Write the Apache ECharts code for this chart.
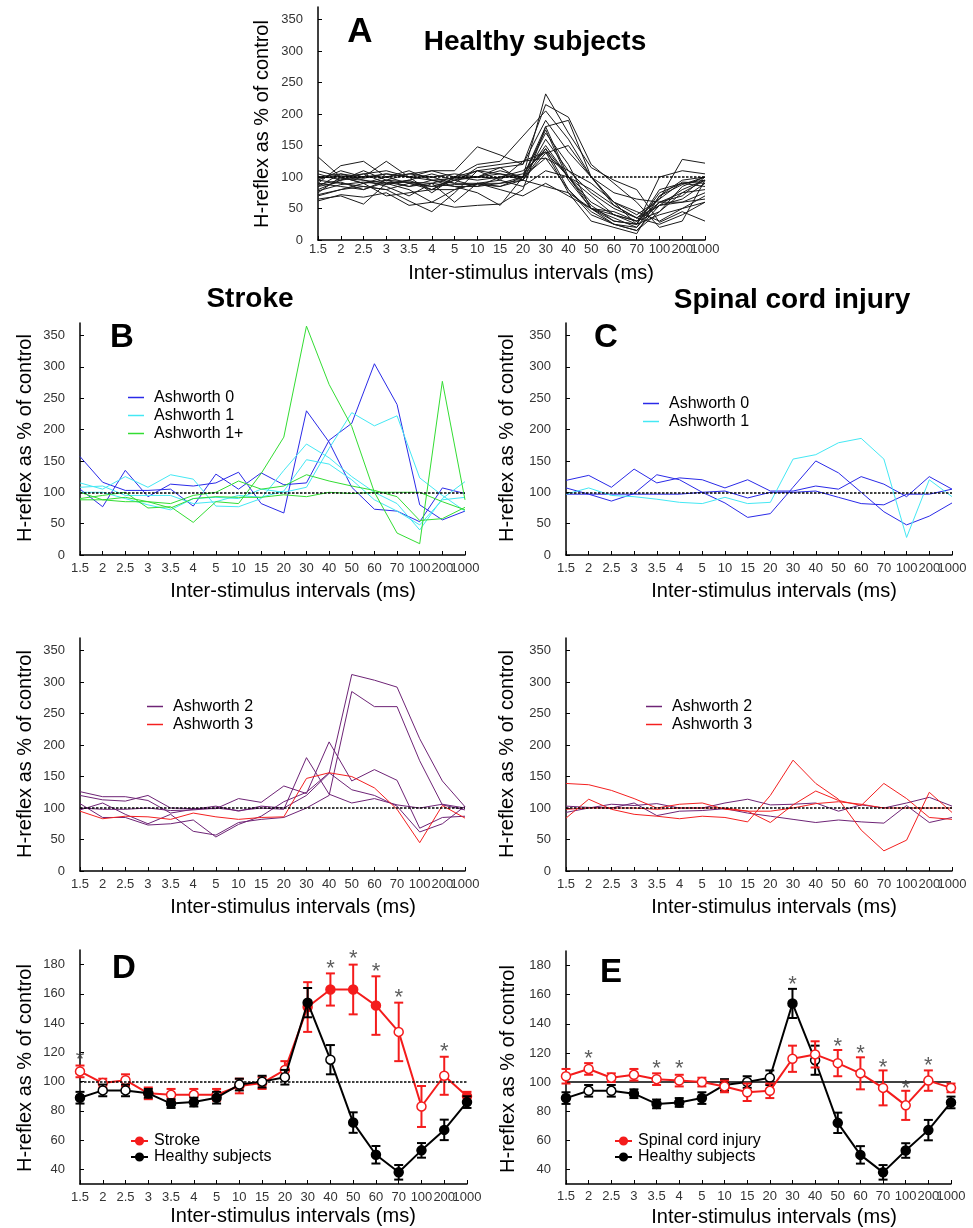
<!DOCTYPE html>
<html><head><meta charset="utf-8">
<script src="https://cdn.jsdelivr.net/npm/echarts@6/dist/echarts.min.js"></script>
<style>html,body{margin:0;padding:0;background:#fff}#c{width:973px;height:1228px}</style>
</head><body><div id="c"></div>
<script>
// ---------- DATA ----------
const categories = ['1.5','2','2.5','3','3.5','4','5','10','15','20','30','40','50','60','70','100','200','1000'];

// Panel A: healthy subjects, individual curves
const healthy01 = [132,100,90,95,92,85,95,110,105,100,232,170,115,95,80,28,45,30];
const healthy02 = [75,100,105,90,95,80,100,120,125,165,205,160,100,55,35,25,40,60];
const healthy03 = [90,118,125,100,105,110,110,148,135,120,215,195,120,90,60,20,30,95];
const healthy04 = [65,70,57,90,80,60,52,55,57,80,180,190,100,60,40,65,128,122];
const healthy05 = [100,105,100,125,100,75,100,95,100,100,170,120,50,30,25,100,110,105];
const healthy06 = [95,90,85,80,62,45,75,110,115,95,145,100,60,40,30,45,75,95];
const healthy07 = [80,95,110,95,85,95,90,90,85,100,175,95,50,25,20,60,70,100];
const healthy08 = [70,80,90,100,110,95,85,85,100,110,140,75,30,20,10,70,95,100];
const healthy09 = [85,105,95,85,70,90,60,90,95,125,130,110,90,60,45,30,50,60];
const healthy10 = [100,98,95,90,92,90,100,100,105,95,160,110,75,50,35,65,92,90];
const healthy11 = [110,100,90,70,75,80,95,100,98,105,145,80,45,25,15,55,80,95];
const healthy12 = [62,72,68,75,55,60,80,90,80,70,90,70,50,40,30,55,65,90];
const healthy13 = [90,85,80,95,105,100,105,100,115,120,190,140,100,60,25,40,50,70];
const healthy14 = [78,88,92,88,95,105,95,85,90,100,130,80,40,25,15,45,85,100];
const healthy15 = [95,110,100,105,100,100,90,115,120,125,140,100,55,30,25,75,90,85];
const healthy16 = [105,95,100,100,90,85,88,88,85,95,85,75,50,45,30,60,60,75];
const healthy17 = [85,92,80,92,85,90,85,75,55,100,180,100,70,40,25,80,90,95];
const healthy18 = [72,80,85,80,90,80,80,90,90,95,138,150,100,75,65,60,75,80];
const healthy19 = [98,102,98,105,100,95,98,100,110,100,150,100,50,35,20,70,88,100];
const healthy20 = [88,95,105,110,100,110,100,110,95,85,110,100,80,55,35,55,60,65];

// Panel B (stroke, Ashworth 0 / 1 / 1+)
const strokeA0_1 = [157,116,103,103,105,78,129,105,131,112,115,183,210,305,240,80,56,70];
const strokeA0_2 = [105,77,135,93,113,110,115,132,82,67,230,180,108,73,70,53,107,98];
const strokeA1_1 = [115,105,125,108,128,121,78,77,90,135,177,155,125,100,82,40,90,117];
const strokeA1_2 = [108,110,95,95,95,82,85,95,92,102,152,145,120,88,70,48,88,92];
const strokeA1_3 = [100,100,90,80,72,90,92,90,105,100,108,170,227,206,222,123,95,70];
const strokeA1p_1 = [90,95,100,75,77,52,85,82,130,188,365,272,205,100,35,18,277,88];
const strokeA1p_2 = [100,88,85,85,82,95,100,118,105,110,128,118,110,103,93,55,58,76];
const strokeA1p_3 = [88,88,92,85,75,90,93,92,92,96,93,100,98,100,100,100,85,72];

// Panel C (SCI, Ashworth 0 / 1)
const sciA0_1 = [119,127,108,137,115,123,120,107,120,102,102,110,105,125,113,93,125,105];
const sciA0_2 = [107,97,86,98,128,120,100,83,60,66,108,150,131,100,69,48,62,83];
const sciA0_3 = [97,97,97,97,97,97,100,102,91,100,100,102,92,82,80,97,97,105];
const sciA1_1 = [97,107,95,93,89,84,82,92,82,84,153,160,179,186,153,28,120,93];

// Panel B lower (stroke, Ashworth 2 / 3)
const strokeA2_1 = [126,118,118,112,92,98,103,95,103,100,120,155,312,303,292,210,143,102];
const strokeA2_2 = [120,113,111,120,100,99,99,115,109,135,123,205,143,161,144,68,85,87];
const strokeA2_3 = [107,85,85,73,75,81,54,74,87,110,125,156,129,120,103,62,75,103];
const strokeA2_4 = [97,108,90,75,90,63,57,77,82,85,100,120,285,261,261,175,105,97];
const strokeA2_5 = [100,98,98,100,96,97,100,96,100,98,180,122,108,115,105,100,106,100];
const strokeA3_1 = [95,83,87,86,82,92,86,82,85,86,147,156,150,132,98,45,104,84];

// Panel C lower (SCI, Ashworth 2 / 3)
const sciA2_1 = [93,100,106,104,107,100,100,108,114,105,106,108,95,105,100,108,117,103];
const sciA2_2 = [103,101,100,108,88,95,96,99,92,87,82,77,81,78,76,104,77,85];
const sciA3_1 = [139,137,128,115,100,106,108,98,95,77,105,127,112,104,139,115,85,82];
const sciA3_2 = [84,114,98,90,87,83,87,85,78,120,176,139,114,65,32,49,125,93];
const sciA3_3 = [98,100,100,100,98,100,100,100,95,95,100,107,110,106,100,100,100,100];

// Panels D/E: group means and SEM
const healthyMean = [89,94,94,92,85,86,89,98,100,103,154,115,72,50,38,53,67,86];
const healthySem  = [4,4,4,3,3,3,4,4,4,5,10,10,7,6,5,5,7,4];
const healthyOpen = [false,true,true,false,false,false,false,true,true,true,false,true,false,false,false,false,false,false];

const strokeMean = [107,99,101,92,91,91,91,97,99,108,151,163,163,152,134,83,104,90];
const strokeSem  = [4,3,4,4,4,4,4,5,4,6,17,11,17,20,20,14,13,3];
const strokeOpen = [true,true,true,true,true,true,true,true,true,true,false,false,false,false,true,true,true,false];
const strokeStars = [[0,115],[11,177],[12,184],[13,175],[14,157],[16,120]];

const sciMean = [104,109,103,105,102,101,100,97,93,94,116,119,113,106,96,84,101,96];
const sciSem  = [5,4,3,4,4,4,3,4,6,5,9,9,9,11,12,10,7,3];
const sciStars = [[1,116],[4,109],[5,109],[10,167],[12,124],[13,119],[14,110],[15,95],[16,111]];

// ---------- STYLE ----------
const FF = '"Liberation Sans", Arial, sans-serif';
const C_A0 = '#2a2ae8', C_A1 = '#44e8f4', C_A1P = '#33dd33', C_A2 = '#6e2476', C_A3 = '#f42020';
const RED = '#f41c1c';

const grids = [
  {left:318, top:7, width:387, height:233},    // 0 A
  {left:80, top:323, width:385, height:232},   // 1 B top
  {left:566, top:323, width:386, height:232},  // 2 C top
  {left:80, top:638, width:385, height:233},   // 3 B low
  {left:566, top:638, width:386, height:233},  // 4 C low
  {left:80, top:950, width:387, height:234},   // 5 D
  {left:566, top:951, width:385, height:233}   // 6 E
];
const xLabelMargin = [3,7,7,7,7,7,6];

const xAxes = grids.map((g,i)=>({
  type:'category', gridIndex:i, data:categories, boundaryGap:false,
  axisLine:{lineStyle:{color:'#000', width:1.5}},
  axisTick:{inside:true, length:4, interval:0, lineStyle:{color:'#000', width:1}},
  axisLabel:{interval:0, margin:xLabelMargin[i], color:'#333', fontSize:13, fontFamily:FF},
  splitLine:{show:false}
}));
const yAxes = grids.map((g,i)=>{
  const base = {
    type:'value', gridIndex:i,
    axisLine:{show:true, lineStyle:{color:'#000', width:1.5}},
    axisTick:{show:true, inside:true, length:4, lineStyle:{color:'#000', width:1}},
    axisLabel:{margin:15, color:'#333', fontSize:13, fontFamily:FF, showMaxLabel:false},
    splitLine:{show:false}
  };
  if (i < 5) { base.min = 0; base.max = 370; base.interval = 50; }
  else { base.min = 30; base.max = 190; base.splitNumber = 8; base.axisLabel.showMinLabel = false; }
  return base;
});

const series = [];
function refLine(gi, solid){
  return {
    type:'line', xAxisIndex:gi, yAxisIndex:gi, data:[], silent:true,
    markLine:{silent:true, symbol:['none','none'], label:{show:false}, animation:false,
      lineStyle:{color:'#000', width:1.5, type: solid ? 'solid' : [2.5,1.5]},
      data:[{yAxis:100}]}
  };
}
function thin(gi, name, color, data, z){
  series.push({type:'line', name, xAxisIndex:gi, yAxisIndex:gi, data, symbol:'none', silent:true,
    color, lineStyle:{color, width:1}, z: z||2});
}

// Panel A
[healthy01,healthy02,healthy03,healthy04,healthy05,healthy06,healthy07,healthy08,healthy09,healthy10,
 healthy11,healthy12,healthy13,healthy14,healthy15,healthy16,healthy17,healthy18,healthy19,healthy20]
 .forEach((d,k)=>thin(0,'HS'+(k+1),'#1a1a1a',d));
series.push(refLine(0));

// Panel B top
thin(1,'Ashworth 0',C_A0,strokeA0_1); thin(1,'Ashworth 0',C_A0,strokeA0_2);
thin(1,'Ashworth 1',C_A1,strokeA1_1); thin(1,'Ashworth 1',C_A1,strokeA1_2); thin(1,'Ashworth 1',C_A1,strokeA1_3);
thin(1,'Ashworth 1+',C_A1P,strokeA1p_1); thin(1,'Ashworth 1+',C_A1P,strokeA1p_2); thin(1,'Ashworth 1+',C_A1P,strokeA1p_3);
series.push(refLine(1));
// Panel C top
thin(2,'Ashworth 0',C_A0,sciA0_1); thin(2,'Ashworth 0',C_A0,sciA0_2); thin(2,'Ashworth 0',C_A0,sciA0_3);
thin(2,'Ashworth 1',C_A1,sciA1_1);
series.push(refLine(2));
// Panel B low
[strokeA2_1,strokeA2_2,strokeA2_3,strokeA2_4,strokeA2_5].forEach(d=>thin(3,'Ashworth 2',C_A2,d));
thin(3,'Ashworth 3',C_A3,strokeA3_1,3);
series.push(refLine(3));
// Panel C low
[sciA2_1,sciA2_2].forEach(d=>thin(4,'Ashworth 2',C_A2,d));
[sciA3_1,sciA3_2,sciA3_3].forEach(d=>thin(4,'Ashworth 3',C_A3,d,3));
series.push(refLine(4));

// Panels D / E
function errBars(gi, mean, sem, color, z){
  series.push({type:'custom', xAxisIndex:gi, yAxisIndex:gi, silent:true, z,
    data: mean.map((m,i)=>[i, m-sem[i], m+sem[i]]),
    renderItem:(params, api)=>{
      const i = api.value(0);
      const lo = api.coord([i, api.value(1)]);
      const hi = api.coord([i, api.value(2)]);
      const w = 4.5;
      const st = {stroke:color, lineWidth:2};
      return {type:'group', children:[
        {type:'line', shape:{x1:lo[0],y1:lo[1],x2:hi[0],y2:hi[1]}, style:st},
        {type:'line', shape:{x1:lo[0]-w,y1:lo[1],x2:lo[0]+w,y2:lo[1]}, style:st},
        {type:'line', shape:{x1:hi[0]-w,y1:hi[1],x2:hi[0]+w,y2:hi[1]}, style:st}
      ]};
    }
  });
}
function meanLine(gi, name, mean, open, color, z){
  series.push({type:'line', name, xAxisIndex:gi, yAxisIndex:gi, silent:true, z,
    data: mean.map((m,i)=> open[i] ? {value:m, itemStyle:{color:'#fff'}} : m),
    symbol:'circle', symbolSize:9, showAllSymbol:true, color,
    itemStyle:{color, borderColor:color, borderWidth:1.5},
    lineStyle:{color, width:2}
  });
}
function stars(gi, pts){
  series.push({type:'scatter', xAxisIndex:gi, yAxisIndex:gi, silent:true, z:10,
    data: pts, symbolSize:1, itemStyle:{color:'rgba(0,0,0,0)'},
    label:{show:true, formatter:'*', position:'inside', fontSize:22, color:'#333', fontFamily:FF}
  });
}
series.push(refLine(5));
errBars(5, strokeMean, strokeSem, RED, 3);
meanLine(5, 'Stroke', strokeMean, strokeOpen, RED, 4);
errBars(5, healthyMean, healthySem, '#000', 5);
meanLine(5, 'Healthy subjects', healthyMean, healthyOpen, '#000', 6);
stars(5, strokeStars);

series.push(refLine(6, true));
errBars(6, healthyMean, healthySem, '#000', 3);
meanLine(6, 'Healthy subjects', healthyMean, healthyOpen, '#000', 4);
errBars(6, sciMean, sciSem, RED, 5);
meanLine(6, 'Spinal cord injury', sciMean, sciMean.map(()=>true), RED, 6);
stars(6, sciStars);

function legend(left, top, data, withSymbol){
  const l = {left, top, orient:'vertical', data, selectedMode:false,
    textStyle:{fontSize:16, color:'#000', fontFamily:FF}};
  if (withSymbol) {
    l.itemWidth = 17; l.itemHeight = 9; l.itemGap = 0;
    l.textStyle.lineHeight = 16; l.textStyle.padding = [0,0,0,1];
  } else {
    l.icon = 'rect'; l.itemWidth = 16; l.itemHeight = 1.5; l.itemGap = 1;
    l.textStyle.lineHeight = 17; l.textStyle.padding = [0,0,0,5];
  }
  return l;
}
const legends = [
  legend(123, 384, ['Ashworth 0','Ashworth 1','Ashworth 1+']),
  legend(638, 390, ['Ashworth 0','Ashworth 1']),
  legend(142, 693, ['Ashworth 2','Ashworth 3']),
  legend(641, 693, ['Ashworth 2','Ashworth 3']),
  legend(125, 1128, ['Stroke','Healthy subjects'], true),
  legend(609, 1128, ['Spinal cord injury','Healthy subjects'], true)
];

function txt(x, y, text, font, rot){
  return {type:'text', x, y, rotation: rot||0, silent:true,
    style:{text, font, fill:'#000', align:'center', verticalAlign:'middle', textAlign:'center', textVerticalAlign:'middle'}};
}
const BIG = 'bold 33px ' + FF, TITLE = 'bold 28px ' + FF, NAME = '20px ' + FF;
const XNAME = 'Inter-stimulus intervals (ms)', YNAME = 'H-reflex as % of control';
const graphics = [
  txt(360, 32, 'A', 'bold 35px ' + FF), txt(535, 42, 'Healthy subjects', TITLE),
  txt(250, 299, 'Stroke', TITLE), txt(792, 300, 'Spinal cord injury', TITLE),
  txt(122, 338, 'B', BIG), txt(606, 338, 'C', BIG), txt(124, 969, 'D', BIG), txt(611, 973, 'E', BIG),
  txt(262, 124, YNAME, NAME, Math.PI/2), txt(531, 273, XNAME, NAME),
  txt(25, 438, YNAME, NAME, Math.PI/2), txt(293, 591, XNAME, NAME),
  txt(507, 438, YNAME, NAME, Math.PI/2), txt(774, 591, XNAME, NAME),
  txt(25, 754, YNAME, NAME, Math.PI/2), txt(293, 907, XNAME, NAME),
  txt(507, 754, YNAME, NAME, Math.PI/2), txt(774, 907, XNAME, NAME),
  txt(25, 1068, YNAME, NAME, Math.PI/2), txt(293, 1216, XNAME, NAME),
  txt(508, 1069, YNAME, NAME, Math.PI/2), txt(774, 1217, XNAME, NAME)
];

const chart = echarts.init(document.getElementById('c'), null, {renderer:'canvas'});
chart.setOption({
  animation:false, backgroundColor:'#fff',
  grid: grids, xAxis: xAxes, yAxis: yAxes, legend: legends, graphic: graphics, series
});
</script></body></html>
